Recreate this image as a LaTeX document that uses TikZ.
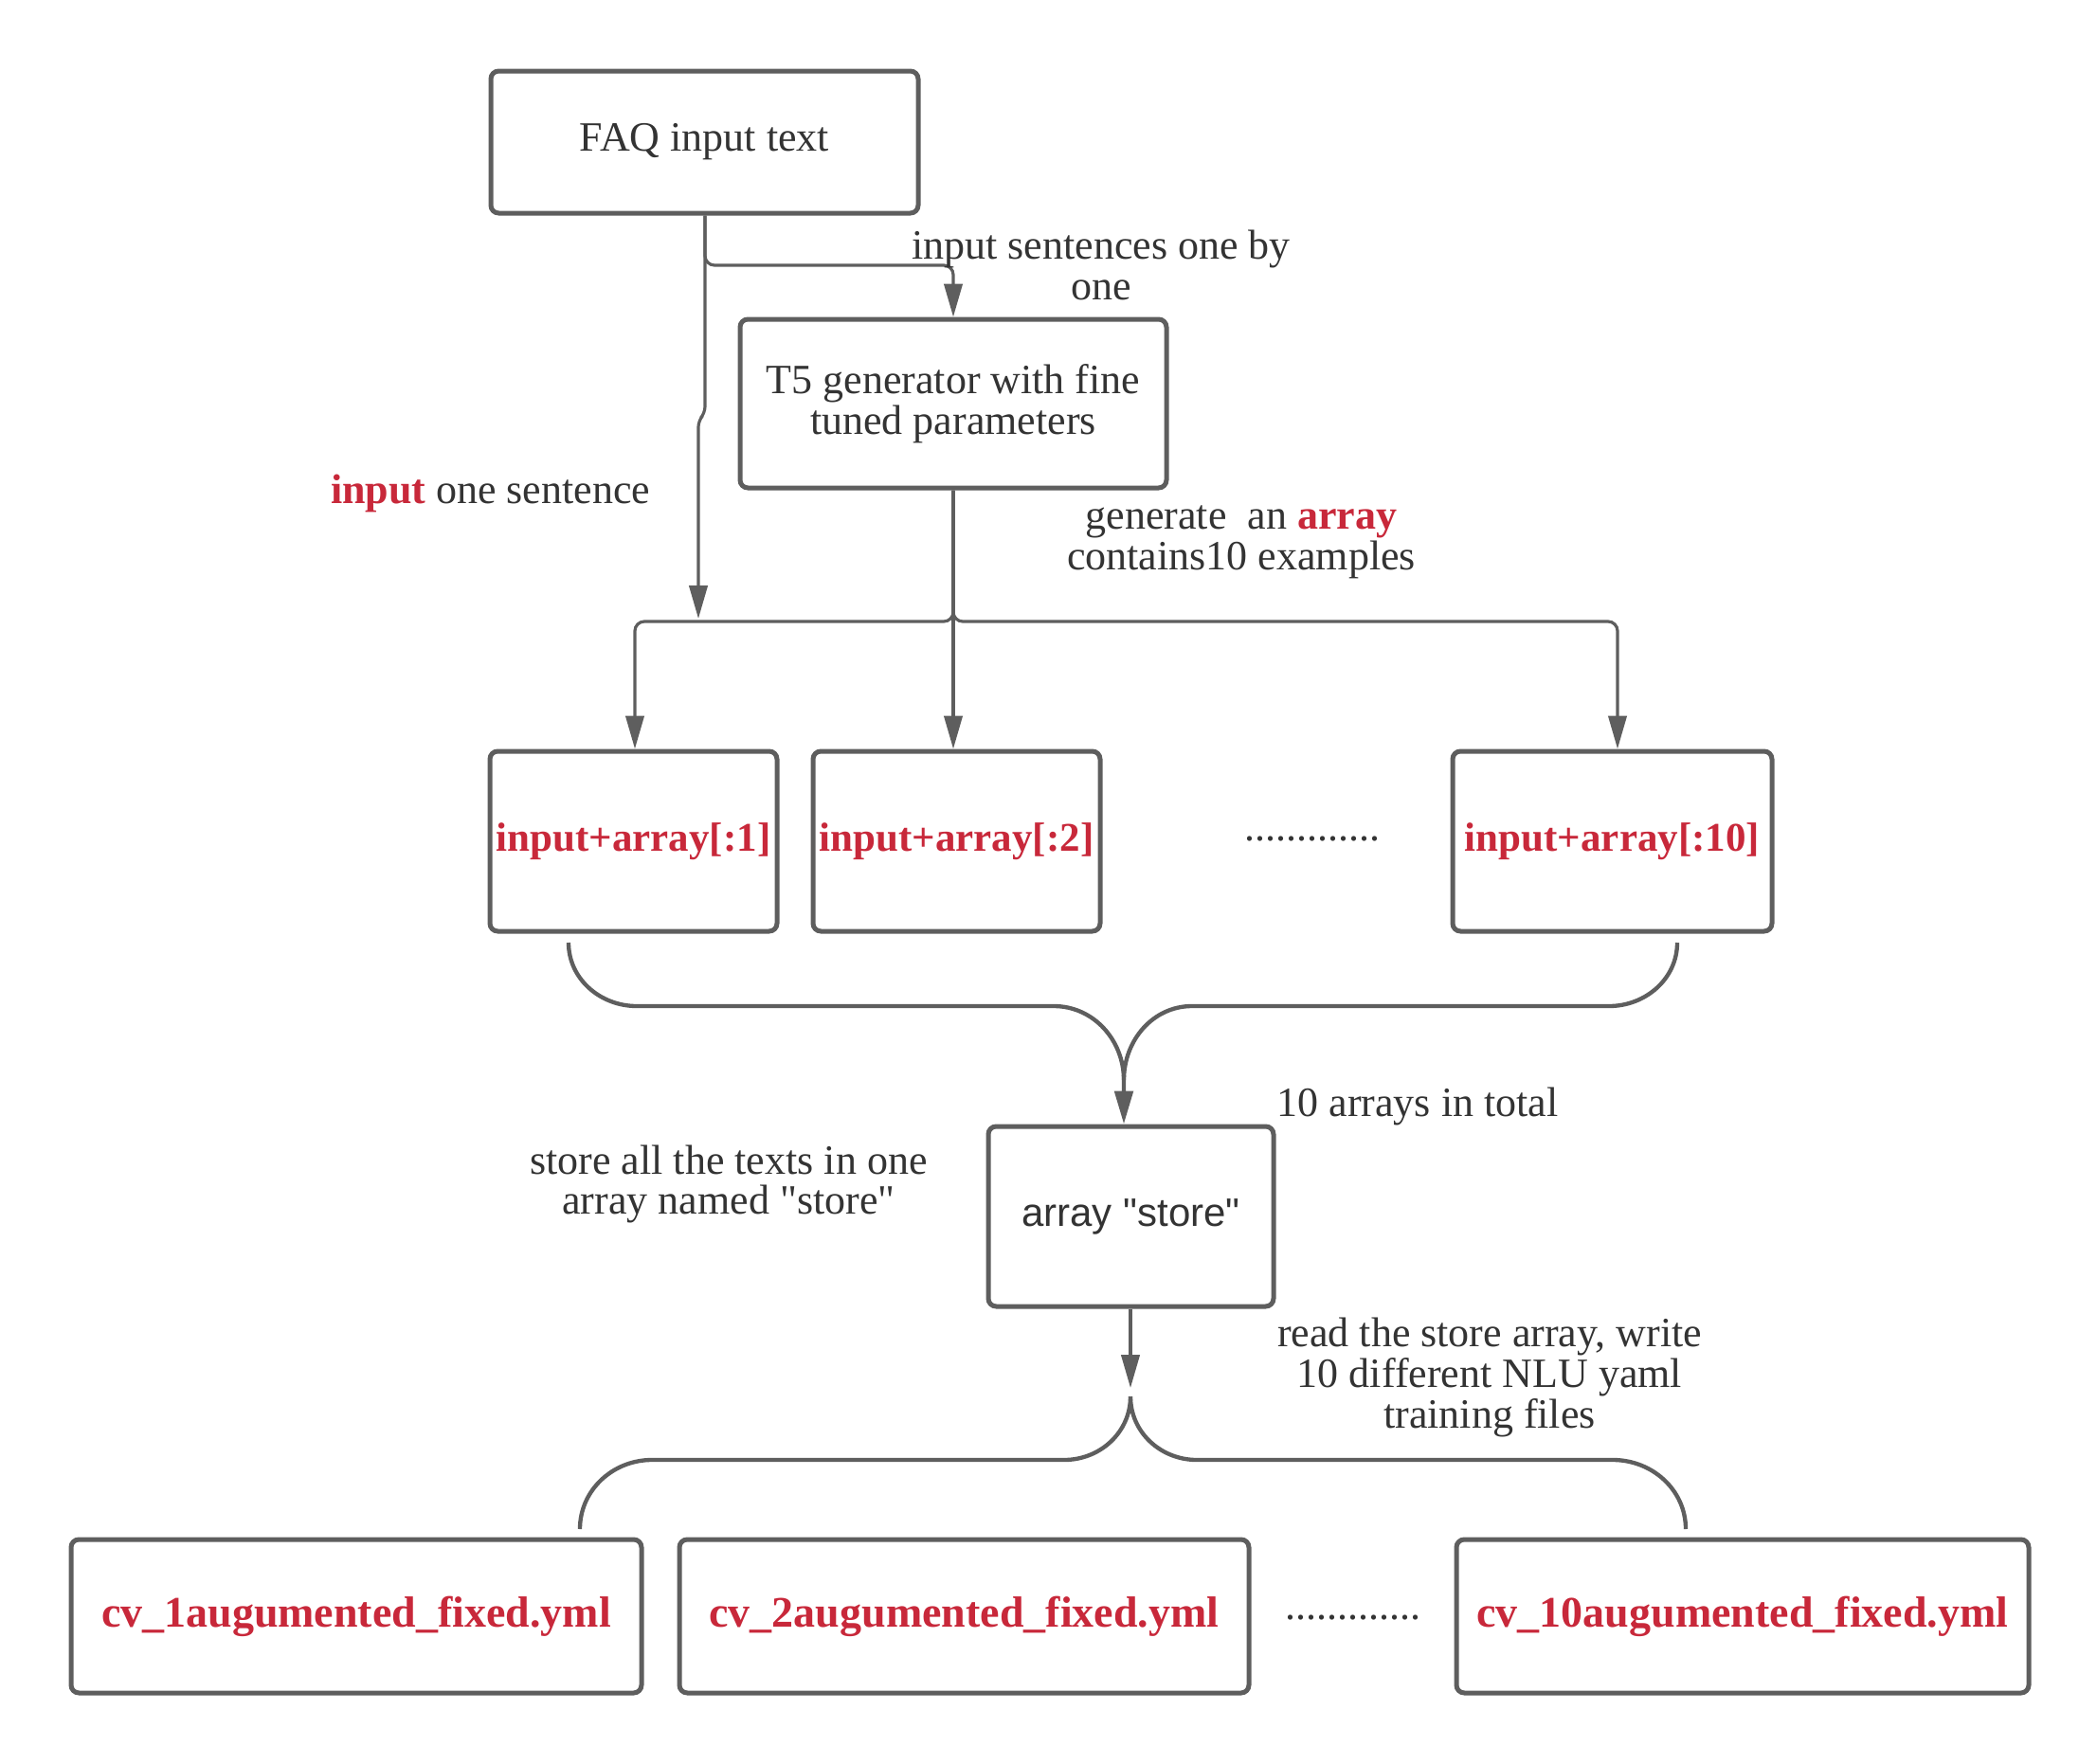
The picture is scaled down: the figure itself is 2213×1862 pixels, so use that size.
\documentclass[tikz,border=0pt]{standalone}
\usepackage{fontspec}
\setmainfont{Liberation Serif}
\newfontfamily\serifplain{Liberation Serif}
\newfontfamily\arialfont{Liberation Sans}
\usetikzlibrary{arrows.meta}
\definecolor{lgray}{HTML}{5E5E5E}
\definecolor{tgray}{HTML}{333333}
\definecolor{hred}{HTML}{C8283A}
\tikzset{
  box/.style={draw=lgray, line width=1.5pt, rounded corners=2.5pt, inner sep=0pt, text=tgray, align=center},
  conn/.style={draw=lgray, line width=0.95pt, rounded corners=3pt},
  brace/.style={draw=lgray, line width=1.3pt},
  arr/.style={-{Triangle[length=10.5pt,width=5.8pt]}},
  lbl/.style={text=tgray, align=center, inner sep=0pt},
  rsmall/.style={font=\fontsize{12.9}{14}\selectfont\bfseries, text=hred},
  rbig/.style={font=\fontsize{13.8}{14}\selectfont\bfseries, text=hred},
}
\newcommand{\boxat}[7][]{% options, name, x1, y1, x2, y2, text
  \node[box, #1, minimum width={(#5-#3)*0.3pt}, minimum height={(#6-#4)*0.3pt}] (#2) at ({(#3+#5)/2},{(#4+#6)/2}) {#7};}
\begin{document}
\begin{tikzpicture}[x=0.3pt, y=-0.3pt, font=\fontsize{13.2}{12.8}\selectfont]
\useasboundingbox (0,0) rectangle (2213,1862);
% boxes
\boxat{faq}{518}{75}{969}{225}{FAQ input text}
\boxat{t5}{781}{337}{1231}{515}{T5 generator with fine\\tuned parameters}
\boxat[rsmall]{b1}{517}{793}{820}{983}{input+array[:1]}
\boxat[rsmall]{b2}{858}{793}{1161}{983}{input+array[:2]}
\boxat[rsmall]{b10}{1533}{793}{1870}{983}{input+array[:10]}
\boxat{store}{1043}{1189}{1344}{1379}{\arialfont\fontsize{12.6}{14}\selectfont array "store"}
\boxat[rbig]{cv1}{75}{1625}{677}{1787}{cv\_1augumented\_fixed.yml}
\boxat[rbig]{cv2}{717}{1625}{1318}{1787}{cv\_2augumented\_fixed.yml}
\boxat[rbig]{cv10}{1537}{1625}{2141}{1787}{cv\_10augumented\_fixed.yml}
% dots
\node[lbl] (dots1) at (1385,886) {.............};
\node[lbl] (dots2) at (1428,1708) {.............};
% connectors from FAQ
\draw[conn, arr] (faq.south -| 744,0) -- (744,280) -- (1006,280) -- (t5.north);
\draw[conn, arr, rounded corners=2pt] (faq.south -| 744,0) -- (744,436) -- (737,444) -- (737,653);
% connectors from T5
\draw[conn, arr] (t5.south) -- (1006,656) -- (670,656) -- (b1.north -| 670,0);
\draw[conn, arr] (t5.south) -- (b2.north -| 1006,0);
\draw[conn, arr] (t5.south) -- (1006,656) -- (1707,656) -- (b10.north -| 1707,0);
% top brace
\draw[brace, arr] (600,995) to[out=-90,in=180] (672,1062) -- (1112,1062) to[out=0,in=90] (1186,1140) -- (store.north -| 1186,0);
\draw[brace] (1770,995) to[out=-90,in=0] (1698,1062) -- (1258,1062) to[out=180,in=90] (1186,1140);
% store to files
\draw[conn, arr] (store.south -| 1193,0) -- (1193,1465);
\draw[brace] (1193,1474) to[out=-90,in=0] (1123,1541) -- (688,1541) to[out=180,in=90] (612,1614);
\draw[brace] (1193,1474) to[out=-90,in=180] (1263,1541) -- (1702,1541) to[out=0,in=90] (1779,1614);
% labels
\node[lbl] (l1) at (1162,280) {input sentences one by\\one};
\node[lbl, anchor=east] (l2) at (687,521) {\textcolor{hred}{\bfseries input} one sentence};
\node[lbl] (l3) at (1310,572) {generate\ \ an \textcolor{hred}{\bfseries array}\\contains10 examples};
\node[lbl] (l4) at (1496,1168) {10 arrays in total};
\node[lbl] (l5) at (769,1250) {store all the texts in one\\array named {\serifplain "store"}};
\node[lbl] (l6) at (1572,1454) {read the store array, write\\10 different NLU yaml\\training files};
\end{tikzpicture}
\end{document}
